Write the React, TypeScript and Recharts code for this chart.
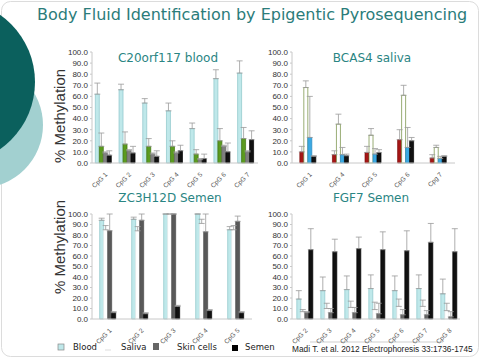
import React from 'react'
import { BarChart, Bar, XAxis, YAxis, ErrorBar } from 'recharts'

// shared
const yTicks = [0, 10, 20, 30, 40, 50, 60, 70, 80, 90, 100]

// C20orf117 blood
const c20Cats = ['CpG 1', 'CpG 2', 'CpG 3', 'CpG 4', 'CpG 5', 'CpG 6', 'CpG 7']
const c20Blood = [62, 66, 54, 47, 31, 76, 81]
const c20BloodErr = [10, 5, 4, 7, 5, 8, 11]
const c20Saliva = [15, 17, 15, 15, 8, 20, 22]
const c20SalivaErr = [12, 11, 7, 5, 4, 11, 10]
const c20Skin = [9, 11, 8, 9, 3, 15, 10]
const c20SkinErr = [1, 1, 1, 1, 1, 1, 1]
const c20Semen = [7, 9, 6, 11, 4, 10, 21]
const c20SemenErr = [4, 6, 5, 5, 4, 8, 8]

// BCAS4 saliva
const bcCats = ['CpG 1', 'CpG 4', 'CpG 5', 'CpG 6', 'Cpg 7']
const bcBlood = [10, 7.5, 9.5, 21, 4.5]
const bcBloodErr = [5, 3.5, 5.5, 9, 3]
const bcSaliva = [68, 35, 25, 61, 14]
const bcSalivaErr = [6, 9, 6, 9, 2]
const bcSkin = [23, 7.5, 8, 14, 4]
const bcSkinErr = [37, 6.5, 5, 18, 2]
const bcSemen = [6, 6.5, 9.5, 20, 6]
const bcSemenErr = [0.5, 1.5, 2.5, 3, 0.5]

// ZC3H12D Semen
const zcCats = ['CpG 1', 'CpG 2', 'CpG 3', 'CpG 4', 'CpG 5']
const zcBlood = [94, 95, 100, 100, 85]
const zcBloodErr = [2, 2, 0, 0, 3]
const zcSaliva = [85, 84, 100, 91, 85]
const zcSalivaErr = [4, 4, 0, 4, 4]
const zcSkin = [84, 94, 100, 83, 93]
const zcSkinErr = [16, 6, 0, 17, 5]
const zcSemen = [6, 5, 12, 8, 6]
const zcSemenErr = [1, 1, 1, 1, 1]

// FGF7 Semen
const fgCats = ['CpG 2', 'CpG 3', 'CpG 4', 'CpG 5', 'CpG 6', 'CpG 7', 'CpG 8']
const fgBlood = [19, 27, 28, 29, 27, 29, 24]
const fgBloodErr = [8, 13, 13, 13, 14, 13, 14]
const fgSaliva = [7, 10, 11, 9, 12, 12, 8]
const fgSalivaErr = [2, 5, 6, 7, 7, 6, 7]
const fgSkin = [6, 6, 6, 5, 4, 4, 2]
const fgSkinErr = [1, 4, 5, 10, 5, 4, 5]
const fgSemen = [66, 64, 67, 66, 65, 73, 64]
const fgSemenErr = [20, 12, 11, 17, 19, 18, 22]

const legendItems = ['Blood', 'Saliva', 'Skin cells', 'Semen']

type Series = { key: string; values: number[]; errs: number[]; fill: string; stroke: string }

const CatTick = (props: any) => {
  const { x, y, payload } = props
  return (
    <text
      x={x + 4}
      y={y + 4}
      transform={`rotate(-45 ${x + 4} ${y + 4})`}
      textAnchor="end"
      fontSize={6.5}
      fill="#555"
      fontFamily="Liberation Sans, Arial, sans-serif"
    >
      {payload.value}
    </text>
  )
}

function Panel({ left, top, width, height, cats, series, gap }: {
  left: number; top: number; width: number; height: number; cats: string[]; series: Series[]; gap: string
}) {
  const data = cats.map((c, i) => {
    const row: any = { name: c }
    series.forEach((s) => {
      row[s.key] = s.values[i]
      row[s.key + 'Err'] = [0, s.errs[i]]
    })
    return row
  })
  return (
    <div style={{ position: 'absolute', left, top }}>
      <BarChart width={width} height={height} data={data} margin={{ top: 12, right: 7, bottom: 0, left: 0 }}
        barCategoryGap={gap} barGap={0}>
        <XAxis dataKey="name" interval={0} height={27} tick={<CatTick />} tickLine={false}
          axisLine={{ stroke: '#c8c8c8' }} />
        <YAxis domain={[0, 100]} ticks={yTicks} width={32} tickSize={2} tickMargin={2}
          tickFormatter={(v: number) => v.toFixed(1)} axisLine={{ stroke: '#c8c8c8' }}
          tickLine={{ stroke: '#c8c8c8' }} interval={0}
          tick={{ fontSize: 8, fill: '#333', fontFamily: 'Liberation Sans, Arial, sans-serif' }} />
        {series.map((s) => (
          <Bar key={s.key} dataKey={s.key} fill={s.fill} stroke={s.stroke} strokeWidth={0.7} isAnimationActive={false}>
            <ErrorBar dataKey={s.key + 'Err'} width={3} stroke="#9a9a9a" strokeWidth={0.8} direction="y" />
          </Bar>
        ))}
      </BarChart>
    </div>
  )
}

const cyan = { fill: '#bfe8ea', stroke: '#8cc6ca' }

export default function App() {
  const titleFont = 'DejaVu Sans, Verdana, sans-serif'
  const sans = 'Liberation Sans, Arial, sans-serif'
  const teal = '#2a8583'
  return (
    <div style={{ position: 'fixed', left: 0, top: 0, width: 480, height: 360, background: '#fff', overflow: 'hidden' }}>
      <svg width={480} height={360} style={{ position: 'absolute', left: 0, top: 0 }}>
        <rect x={1.5} y={1.5} width={477} height={355} rx={9} fill="#fff" stroke="#dcdcdc" />
        <circle cx={-20} cy={125} r={63} fill="#a2d0d0" />
        <circle cx={-47} cy={82} r={82} fill="#0b605d" />
        <text x={37} y={20} fontSize={16} fill="#2b7c7a" fontFamily={titleFont}>
          Body Fluid Identification by Epigentic Pyrosequencing
        </text>
        <text x={65} y={116} fontSize={15} fill="#333" fontFamily={sans} textAnchor="middle"
          transform="rotate(-90 65 116)">% Methylation</text>
        <text x={65} y={247} fontSize={15} fill="#333" fontFamily={sans} textAnchor="middle"
          transform="rotate(-90 65 247)">% Methylation</text>
        <text x={168} y={62} fontSize={12} fill={teal} fontFamily={titleFont} textAnchor="middle">C20orf117 blood</text>
        <text x={372} y={62} fontSize={12} fill={teal} fontFamily={titleFont} textAnchor="middle">BCAS4 saliva</text>
        <text x={170} y={202} fontSize={12} fill={teal} fontFamily={titleFont} textAnchor="middle">ZC3H12D Semen</text>
        <text x={371} y={202} fontSize={12} fill={teal} fontFamily={titleFont} textAnchor="middle">FGF7 Semen</text>
        <line x1={310} y1={342} x2={443} y2={342} stroke="#cfcfcf" />
        {/* legend */}
        <rect x={58} y={344} width={6} height={6} fill="#bfe8ea" stroke="#888" strokeWidth={0.7} />
        <line x1={105} y1={350} x2={111} y2={350} stroke="#ddd" />
        <rect x={153} y={343} width={6} height={7} fill="#666" />
        <rect x={232} y={345} width={6} height={6} fill="#000" />
        {legendItems.map((t, i) => (
          <text key={t} x={[73, 121, 177, 245][i]} y={350} fontSize={8.5} fill="#222"
            fontFamily={titleFont}>{t}</text>
        ))}
        <text x={292} y={352} fontSize={8.3} fill="#222" fontFamily={sans}>
          Madi T. et al. 2012 Electrophoresis 33:1736-1745
        </text>
      </svg>

      <Panel left={60} top={40} width={205} height={150} cats={c20Cats} gap="14%" series={[
        { key: 'blood', values: c20Blood, errs: c20BloodErr, ...cyan },
        { key: 'saliva', values: c20Saliva, errs: c20SalivaErr, fill: '#5b9b1f', stroke: '#40720f' },
        { key: 'skin', values: c20Skin, errs: c20SkinErr, fill: '#808080', stroke: '#6a6a6a' },
        { key: 'semen', values: c20Semen, errs: c20SemenErr, fill: '#111', stroke: '#000' },
      ]} />
      <Panel left={260} top={40} width={202} height={150} cats={bcCats} gap="24%" series={[
        { key: 'blood', values: bcBlood, errs: bcBloodErr, fill: '#a51616', stroke: '#7d0c0c' },
        { key: 'saliva', values: bcSaliva, errs: bcSalivaErr, fill: '#fff', stroke: '#6d8a3a' },
        { key: 'skin', values: bcSkin, errs: bcSkinErr, fill: '#3ba9e2', stroke: '#2a88c0' },
        { key: 'semen', values: bcSemen, errs: bcSemenErr, fill: '#111', stroke: '#000' },
      ]} />
      <Panel left={60} top={202} width={199} height={144} cats={zcCats} gap="24%" series={[
        { key: 'blood', values: zcBlood, errs: zcBloodErr, ...cyan },
        { key: 'saliva', values: zcSaliva, errs: zcSalivaErr, fill: '#fff', stroke: '#f0f0f0' },
        { key: 'skin', values: zcSkin, errs: zcSkinErr, fill: '#595959', stroke: '#4a4a4a' },
        { key: 'semen', values: zcSemen, errs: zcSemenErr, fill: '#111', stroke: '#000' },
      ]} />
      <Panel left={260} top={202} width={207} height={144} cats={fgCats} gap="20%" series={[
        { key: 'blood', values: fgBlood, errs: fgBloodErr, ...cyan },
        { key: 'saliva', values: fgSaliva, errs: fgSalivaErr, fill: '#fff', stroke: '#e6e6e6' },
        { key: 'skin', values: fgSkin, errs: fgSkinErr, fill: '#666', stroke: '#555' },
        { key: 'semen', values: fgSemen, errs: fgSemenErr, fill: '#111', stroke: '#000' },
      ]} />
    </div>
  )
}
